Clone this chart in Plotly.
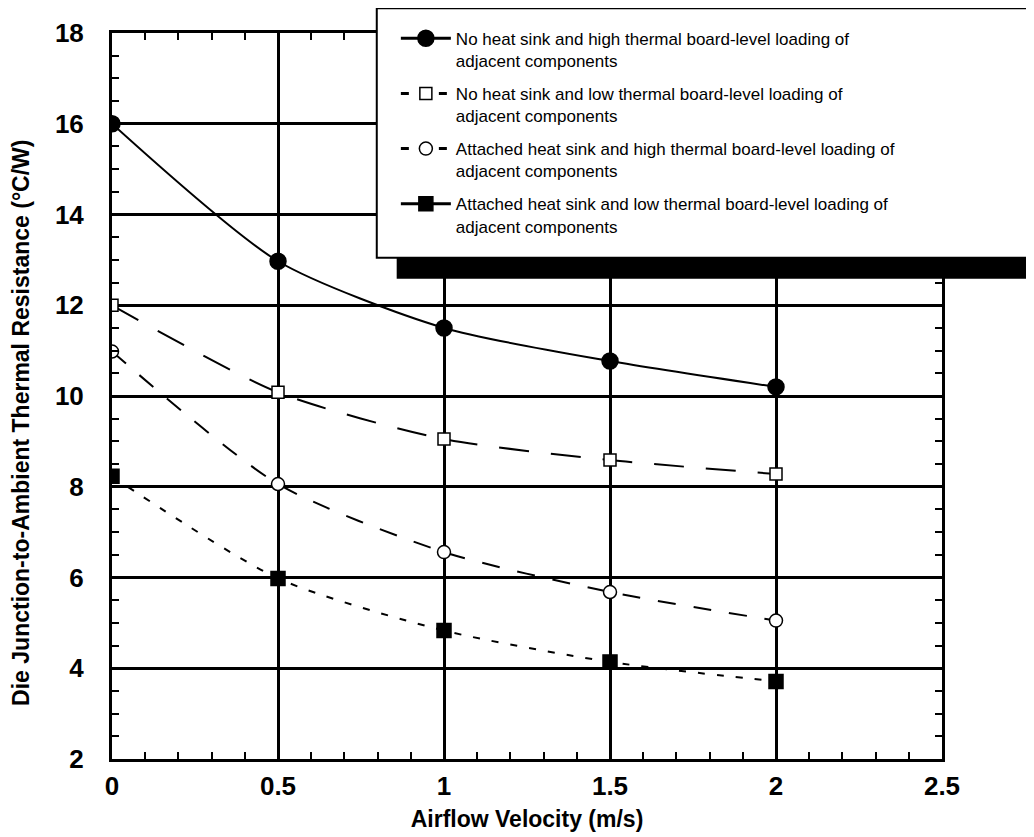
import plotly.graph_objects as go

airflow = [0, 0.5, 1, 1.5, 2]
no_hs_high = [16.0, 12.97, 11.5, 10.77, 10.2]
no_hs_low = [12.0, 10.08, 9.05, 8.59, 8.28]
hs_high = [10.98, 8.06, 6.56, 5.68, 5.05]
hs_low = [8.23, 5.98, 4.83, 4.14, 3.71]

names = [
    "No heat sink and high thermal board-level loading of<br>adjacent components",
    "No heat sink and low thermal board-level loading of<br>adjacent components",
    "Attached heat sink and high thermal board-level loading of<br>adjacent components",
    "Attached heat sink and low thermal board-level loading of<br>adjacent components",
]
series = [no_hs_high, no_hs_low, hs_high, hs_low]
dashes = ["solid", "30px,22px", "18px,18px", "7px,12px"]
legend_dashes = ["solid", "8px,30px", "8px,30px", "solid"]
symbols = ["circle", "square", "circle", "square"]
mcolors = ["black", "white", "white", "black"]
msizes = [16, 12, 13, 14]

fig = go.Figure()
for i in range(4):
    fig.add_trace(go.Scatter(
        x=airflow, y=series[i], name=names[i], mode="lines+markers",
        showlegend=False,
        line=dict(color="black", width=2, dash=dashes[i], shape="spline", smoothing=0.7),
        marker=dict(symbol=symbols[i], size=msizes[i], color=mcolors[i],
                    line=dict(color="black", width=1.5)),
    ))
for i in range(4):
    fig.add_trace(go.Scatter(
        x=[None], y=[None], name=names[i], mode="lines+markers",
        legendgroup=str(i), showlegend=True,
        line=dict(color="black", width=3, dash=legend_dashes[i]),
        marker=dict(symbol=symbols[i], size=msizes[i], color=mcolors[i],
                    line=dict(color="black", width=1.5)),
    ))

font_family = "Liberation Sans, Arial, sans-serif"

fig.update_layout(
    width=1034, height=837,
    margin=dict(l=104, r=100, t=25, b=86),
    plot_bgcolor="white", paper_bgcolor="white",
    font=dict(family=font_family, color="black"),
    showlegend=True,
    legend=dict(x=0.342, y=1.017, xanchor="left", yanchor="top",
                bgcolor="rgba(0,0,0,0)", borderwidth=0,
                font=dict(size=17, family=font_family, color="black"),
                itemwidth=50, valign="top", tracegroupgap=8),
    xaxis=dict(range=[0, 2.5], dtick=0.5, tick0=0, showgrid=True, gridcolor="black", gridwidth=3,
               showline=True, linecolor="black", linewidth=3, mirror="allticks",
               ticks="", zeroline=False, ticklabelstandoff=2, automargin=False,
               tickfont=dict(size=26, family=font_family, weight="bold"),
               minor=dict(dtick=0.1, ticks="inside", ticklen=7, tickwidth=2, tickcolor="black", showgrid=False),
               title=dict(text="Airflow Velocity (m/s)", font=dict(size=23, family=font_family, weight="bold"), standoff=11)),
    yaxis=dict(range=[2, 18], dtick=2, tick0=2, showgrid=True, gridcolor="black", gridwidth=3,
               showline=True, linecolor="black", linewidth=3, mirror="allticks",
               ticks="", zeroline=False, ticklabelstandoff=20, automargin=False,
               tickfont=dict(size=26, family=font_family, weight="bold"),
               minor=dict(dtick=0.5, ticks="inside", ticklen=7, tickwidth=2, tickcolor="black", showgrid=False)),
    annotations=[
        dict(text="Die Junction-to-Ambient Thermal Resistance (°C/W)", textangle=-90,
             xref="paper", yref="paper", x=-0.1096, y=0.463, xanchor="center", yanchor="middle",
             showarrow=False, font=dict(size=23, family=font_family, weight="bold", color="black")),
    ],
    shapes=[
        dict(type="rect", xref="paper", yref="paper", x0=0.343, x1=1.2, y0=0.6616, y1=0.6905,
             fillcolor="black", line=dict(width=0), layer="above"),
        dict(type="rect", xref="paper", yref="paper", x0=0.319, x1=1.2, y0=0.6905, y1=1.034,
             fillcolor="white", line=dict(color="black", width=2), layer="above"),
    ],
)

fig.write_html("out.html")
